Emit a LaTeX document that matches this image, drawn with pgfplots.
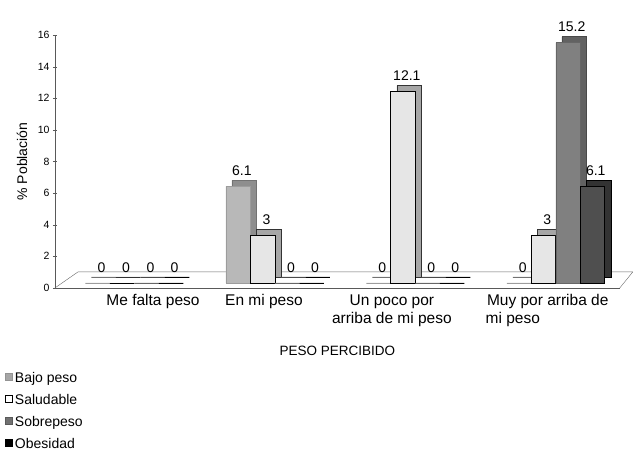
\documentclass[border=0pt]{standalone}
\usepackage{pgfplots}
\pgfplotsset{compat=1.18}
\usepackage{fontspec}
\setmainfont{Liberation Sans}
\definecolor{bajoF}{HTML}{B8B8B8}
\definecolor{bajoS}{HTML}{8E8E8E}
\definecolor{saluF}{HTML}{E6E6E6}
\definecolor{saluS}{HTML}{A6A6A6}
\definecolor{sobrF}{HTML}{808080}
\definecolor{sobrS}{HTML}{626262}
\definecolor{obesF}{HTML}{4F4F4F}
\definecolor{obesS}{HTML}{333333}
\begin{document}
\begin{tikzpicture}
\begin{axis}[
  scale only axis, width=565pt, height=253pt,
  xmin=-0.566, xmax=3.456, ymin=0, ymax=16,
  axis y line=left, axis x line=bottom,
  axis line style={draw=black!65, -},
  ytick={0,2,...,16},
  xtick={0.132,0.922,1.833,2.943},
  major tick length=4pt,
  x tick style={draw=none},
  y tick style={draw=black!65},
  xticklabels={Me falta peso, En mi peso, {Un poco por\\arriba de mi peso}, {Muy por arriba de\\mi peso\hspace*{70pt}}},
  xticklabel style={align=center, font=\fontsize{15.5}{18}\selectfont, yshift=-1pt},
  yticklabel style={font=\fontsize{10.5}{12}\selectfont},
  /pgf/number format/assume math mode=true,
  ylabel={\% Población},
  ylabel style={font=\fontsize{14}{16}\selectfont, at={([shift={(-33pt,0pt)}]axis description cs:0,0.5)}, anchor=center},
  xlabel={PESO PERCIBIDO},
  xlabel style={font=\fontsize{13.5}{16}\selectfont, at={([shift={(0pt,-63pt)}]axis description cs:0.5,0)}, anchor=center},
  legend style={at={(rel axis cs:0,0)}, anchor=north west, xshift=-53pt, yshift=-80pt,
    draw=none, fill=none, font=\fontsize{14}{16}\selectfont, row sep=6.5pt,
    /tikz/every even column/.append style={column sep=4pt}},
  legend cell align=left,
  clip=false,
]
% bounding helpers and floor
\path ([yshift=35pt]rel axis cs:0,1) ([xshift=-55pt]rel axis cs:0,0);
\draw[black!60] (rel axis cs:0,0) -- ++(23pt,16pt) -- ([xshift=13pt,yshift=16pt]rel axis cs:1,0) -- (rel axis cs:1,0);

% Bajo peso
\addplot[ybar, bar width=24.5pt, bar shift=-30.75pt, fill=bajoS, draw=bajoS!80!black, yshift=11pt, forget plot]
  coordinates {(0,0) (1,6.1) (2,0) (3,0)};
\addplot[ybar, bar width=24.5pt, bar shift=-36.75pt, fill=bajoF, draw=bajoF!85!black, yshift=5pt,
  nodes near coords, every node near coord/.append style={font=\fontsize{14}{16}\selectfont, text=black, xshift=-33pt, yshift=7pt},
  legend image code/.code={\draw[fill=bajoF!90!black, draw=bajoF!80!black] (0pt,-7pt) rectangle (7pt,0pt);}]
  coordinates {(0,0) (1,6.1) (2,0) (3,0)};
\addlegendentry{Bajo peso}
% Saludable
\addplot[ybar, bar width=24.5pt, bar shift=-6.25pt, fill=saluS, draw=black!80, yshift=11pt, forget plot]
  coordinates {(0,0) (1,3) (2,12.1) (3,3)};
\addplot[ybar, bar width=24.5pt, bar shift=-12.25pt, fill=saluF, draw=black, line width=0.8pt, yshift=5pt,
  nodes near coords, every node near coord/.append style={font=\fontsize{14}{16}\selectfont, text=black, xshift=-8.5pt, yshift=7pt},
  legend image code/.code={\draw[fill=white, draw=black] (0pt,-7pt) rectangle (7pt,0pt);}]
  coordinates {(0,0) (1,3) (2,12.1) (3,3)};
\addlegendentry{Saludable}
% Sobrepeso
\addplot[ybar, bar width=24.5pt, bar shift=18.25pt, fill=sobrS, draw=sobrS!75!black, yshift=11pt, forget plot]
  coordinates {(0,0) (1,0) (2,0) (3,15.2)};
\addplot[ybar, bar width=24.5pt, bar shift=12.25pt, fill=sobrF, draw=sobrF!80!black, yshift=5pt,
  nodes near coords, every node near coord/.append style={font=\fontsize{14}{16}\selectfont, text=black, xshift=16pt, yshift=7pt},
  legend image code/.code={\draw[fill=sobrF!88!black, draw=sobrF!70!black] (0pt,-7pt) rectangle (7pt,0pt);}]
  coordinates {(0,0) (1,0) (2,0) (3,15.2)};
\addlegendentry{Sobrepeso}
% Obesidad
\addplot[ybar, bar width=24.5pt, bar shift=42.75pt, fill=obesS, draw=black, yshift=11pt, forget plot]
  coordinates {(0,0) (1,0) (2,0) (3,6.1)};
\addplot[ybar, bar width=24.5pt, bar shift=36.75pt, fill=obesF, draw=black, line width=0.8pt, yshift=5pt,
  nodes near coords, every node near coord/.append style={font=\fontsize{14}{16}\selectfont, text=black, xshift=40pt, yshift=7pt},
  legend image code/.code={\draw[fill=black, draw=black] (0pt,-7pt) rectangle (7pt,0pt);}]
  coordinates {(0,0) (1,0) (2,0) (3,6.1)};
\addlegendentry{Obesidad}
\end{axis}
\end{tikzpicture}
\end{document}
